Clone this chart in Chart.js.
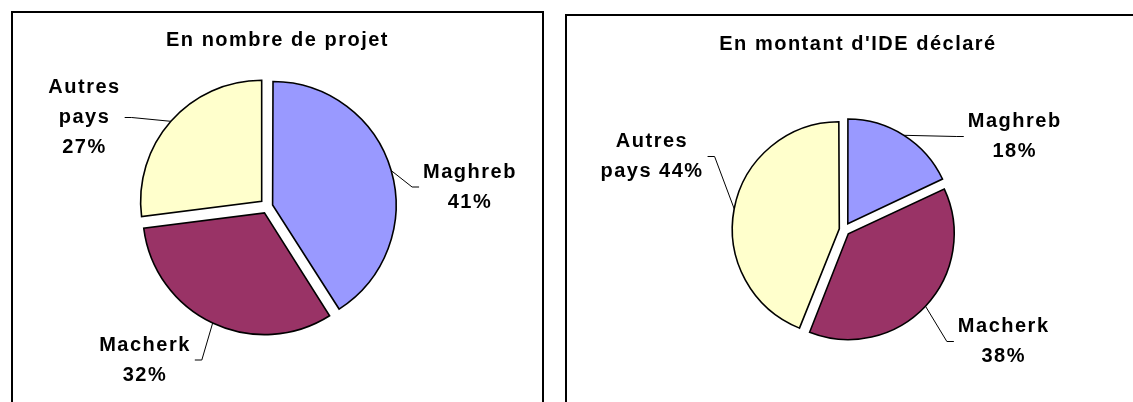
<!DOCTYPE html>
<html lang="fr">
<head>
<meta charset="utf-8">
<script src="https://cdn.jsdelivr.net/npm/chart.js@4.4.1/dist/chart.umd.min.js"></script>
<style>
  html, body { margin: 0; padding: 0; background: #fff; width: 1133px; height: 402px; overflow: hidden; }
  .box { position: absolute; border: 2px solid #000; height: 420px; }
  .box canvas { display: block; }
</style>
</head>
<body>
<div class="box" style="left:11px;top:11px;width:529px"><canvas id="projets" width="529" height="400"></canvas></div>
<div class="box" style="left:565px;top:14px;width:582px"><canvas id="montants" width="582" height="400"></canvas></div>
<script>
const categories = ["Maghreb", "Macherk", "Autres pays"];
const projetShares = [41, 32, 27];
const ideShares = [18, 38, 44];
const sliceColors = ["#9999FF", "#993366", "#FFFFCC"];

const FONT = 'bold 20px "Liberation Sans", Arial, sans-serif';
const SLICE_GAP = 7.8;

// chart.js moves an exploded slice by offset/4 * (1 + fix), undo that so each slice moves SLICE_GAP px
function explode(ctx) {
  if (ctx.dataIndex === undefined) return 0;
  const data = ctx.dataset.data;
  const total = data.reduce((a, b) => a + b, 0);
  const circ = 2 * Math.PI * data[ctx.dataIndex] / total;
  const fix = 1 - Math.sin(Math.min(Math.PI, circ));
  return SLICE_GAP * 4 / (1 + fix);
}

function wrapWords(ctx, text, maxWidth) {
  const lines = [];
  let line = "";
  for (const w of text.split(" ")) {
    const test = line ? line + " " + w : w;
    if (line && ctx.measureText(test).width > maxWidth) {
      lines.push(line);
      line = w;
    } else {
      line = test;
    }
  }
  lines.push(line);
  return lines;
}

// title + excel style data labels with leader lines
const excelLook = {
  id: "excelLook",
  afterDraw(chart, args, opts) {
    const ctx = chart.ctx;
    ctx.save();
    ctx.font = FONT;
    ctx.letterSpacing = "1.5px";
    ctx.fillStyle = "#000";
    ctx.textAlign = "center";
    ctx.textBaseline = "alphabetic";
    ctx.fillText(opts.title, chart.width / 2, opts.titleY);

    const meta = chart.getDatasetMeta(0);
    const data = chart.data.datasets[0].data;
    const total = data.reduce((a, b) => a + b, 0);
    ctx.textBaseline = "middle";
    ctx.lineWidth = 1;
    ctx.strokeStyle = "#000";

    meta.data.forEach((arc, i) => {
      const p = arc.getProps(["x", "y", "startAngle", "endAngle", "outerRadius"], true);
      const half = (p.startAngle + p.endAngle) / 2;
      const fix = 1 - Math.sin(Math.min(Math.PI, p.endAngle - p.startAngle));
      const r = p.outerRadius + (arc.options.offset || 0) / 4 * (1 + fix);
      const ax = p.x + Math.cos(half) * r;
      const ay = p.y + Math.sin(half) * r;

      const pct = Math.round(data[i] / total * 100);
      const lines = wrapWords(ctx, chart.data.labels[i] + " " + pct + "%", opts.wrapWidth);
      const lx = p.x + opts.labelOffsets[i][0];
      const ly = p.y + opts.labelOffsets[i][1];
      const w = Math.max(...lines.map(l => ctx.measureText(l).width));
      lines.forEach((l, k) => {
        ctx.fillText(l, lx, ly + (k - (lines.length - 1) / 2) * opts.lineHeight);
      });

      const side = lx > p.x ? -1 : 1;
      const ex = lx + side * (w / 2 + 4);
      ctx.beginPath();
      ctx.moveTo(ax, ay);
      ctx.lineTo(ex + side * 7, ly);
      ctx.lineTo(ex, ly);
      ctx.stroke();
    });
    ctx.restore();
  }
};

function pieChart(id, values, look) {
  return new Chart(document.getElementById(id), {
    type: "pie",
    data: {
      labels: categories,
      datasets: [{
        data: values,
        backgroundColor: sliceColors,
        borderColor: "#000",
        borderWidth: 1.6,
        borderJoinStyle: "miter",
        offset: explode
      }]
    },
    options: {
      responsive: false,
      animation: false,
      events: [],
      devicePixelRatio: 1,
      radius: look.radius,
      layout: { padding: look.padding },
      plugins: {
        legend: { display: false },
        tooltip: { enabled: false },
        title: { display: false },
        excelLook: look
      }
    },
    plugins: [excelLook]
  });
}

pieChart("projets", projetShares, {
  title: "En nombre de projet",
  titleY: 33,
  radius: 121,
  padding: { left: 0, right: 20, top: 40, bottom: 53 },
  wrapWidth: 98,
  lineHeight: 30,
  labelOffsets: [[202.5, -19.5], [-122.5, 153.5], [-183, -89]]
});

pieChart("montants", ideShares, {
  title: "En montant d'IDE déclaré",
  titleY: 34,
  radius: 104,
  padding: { left: 0, right: 28, top: 40, bottom: 12.6 },
  wrapWidth: 110,
  lineHeight: 30,
  labelOffsets: [[170.7, -93.2], [159.7, 111.8], [-192, -73.2]]
});
</script>
</body>
</html>
